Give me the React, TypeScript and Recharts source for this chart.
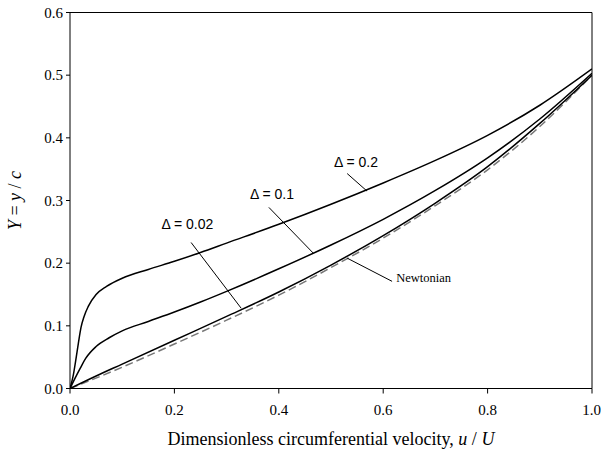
import React from "react";
import { LineChart, Line, XAxis, YAxis, ReferenceLine, ReferenceDot } from "recharts";

// u/U values and Y = y/c values for each curve
const delta02U = [0, 0.006, 0.011, 0.016, 0.021, 0.027, 0.035, 0.05, 0.07, 0.1, 0.15, 0.2, 0.25, 0.3, 0.4, 0.5, 0.6, 0.7, 0.8, 0.9, 1.0];
const delta02Y = [0, 0.02, 0.045, 0.072, 0.097, 0.115, 0.131, 0.15, 0.163, 0.176, 0.19, 0.203, 0.217, 0.232, 0.262, 0.294, 0.328, 0.364, 0.404, 0.452, 0.51];

const delta01U = [0, 0.01, 0.02, 0.03, 0.05, 0.075, 0.1, 0.15, 0.2, 0.25, 0.3, 0.4, 0.5, 0.6, 0.7, 0.8, 0.9, 1.0];
const delta01Y = [0, 0.017, 0.033, 0.048, 0.067, 0.081, 0.092, 0.107, 0.122, 0.138, 0.155, 0.191, 0.229, 0.27, 0.316, 0.368, 0.43, 0.503];

const delta002U = [0, 0.05, 0.1, 0.2, 0.3, 0.4, 0.5, 0.6, 0.7, 0.8, 0.9, 1.0];
const delta002Y = [0, 0.02, 0.039, 0.077, 0.115, 0.154, 0.197, 0.244, 0.296, 0.354, 0.423, 0.5];

const newtonianU = [0, 0.1, 0.2, 0.3, 0.4, 0.5, 0.6, 0.7, 0.8, 0.9, 1.0];
const newtonianY = [0, 0.034, 0.071, 0.109, 0.149, 0.193, 0.24, 0.292, 0.349, 0.418, 0.5];

const xTicks = [0, 0.2, 0.4, 0.6, 0.8, 1.0];
const yTicks = [0, 0.1, 0.2, 0.3, 0.4, 0.5, 0.6];

// annotation labels with leader lines (data coordinates)
const annotations = [
  { text: "\u0394 = 0.2", x: 0.548, y: 0.361, from: { x: 0.531, y: 0.343 }, to: { x: 0.569, y: 0.315 }, serif: false, anchor: "middle" },
  { text: "\u0394 = 0.1", x: 0.387, y: 0.311, from: { x: 0.381, y: 0.289 }, to: { x: 0.466, y: 0.216 }, serif: false, anchor: "middle" },
  { text: "\u0394 = 0.02", x: 0.225, y: 0.262, from: { x: 0.232, y: 0.233 }, to: { x: 0.328, y: 0.128 }, serif: false, anchor: "middle" },
  { text: "Newtonian", x: 0.625, y: 0.177, from: { x: 0.531, y: 0.208 }, to: { x: 0.617, y: 0.171 }, serif: true, anchor: "start" },
];

const zip = (u: number[], y: number[]) => u.map((v, i) => ({ x: v, y: y[i] }));

const serif = "'Liberation Serif', 'Times New Roman', serif";
const sans = "'Liberation Sans', Arial, sans-serif";

const XTitle = (props: any) => {
  const { viewBox } = props;
  const cx = viewBox.x + viewBox.width / 2;
  return (
    <text x={cx} y={viewBox.y + 56} textAnchor="middle" fontFamily={serif} fontSize={18} fill="#000">
      Dimensionless circumferential velocity, <tspan fontStyle="italic">u</tspan> / <tspan fontStyle="italic">U</tspan>
    </text>
  );
};

const YTitle = (props: any) => {
  const { viewBox } = props;
  const cy = viewBox.y + viewBox.height / 2;
  const x = 21;
  return (
    <text x={x} y={cy} transform={`rotate(-90, ${x}, ${cy})`} textAnchor="middle" fontFamily={serif} fontSize={18} fill="#000">
      <tspan fontStyle="italic">Y</tspan> = <tspan fontStyle="italic">y</tspan> / <tspan fontStyle="italic">c</tspan>
    </text>
  );
};

export default function App() {
  return (
    <div style={{ position: "absolute", left: 0, top: 0, background: "#fff" }}>
      <LineChart width={601} height={451} margin={{ top: 12.5, right: 9, bottom: 0, left: 0 }}>
        <XAxis
          type="number"
          dataKey="x"
          domain={[0, 1]}
          ticks={xTicks}
          tickFormatter={(v: number) => v.toFixed(1)}
          axisLine={{ stroke: "#000", strokeWidth: 1 }}
          tickLine={{ stroke: "#000" }}
          tickSize={5}
          tickMargin={11}
          height={62.5}
          tick={{ fill: "#000", fontFamily: serif, fontSize: 15 }}
          label={<XTitle />}
          allowDataOverflow
        />
        <YAxis
          type="number"
          domain={[0, 0.6]}
          ticks={yTicks}
          tickFormatter={(v: number) => v.toFixed(1)}
          axisLine={{ stroke: "#000", strokeWidth: 1 }}
          tickLine={{ stroke: "#000" }}
          tickSize={4}
          tickMargin={3}
          width={70}
          tick={{ fill: "#000", fontFamily: serif, fontSize: 15 }}
          label={<YTitle />}
          allowDataOverflow
        />
        <ReferenceLine y={0.6} stroke="#000" strokeWidth={1} />
        <ReferenceLine x={1} stroke="#000" strokeWidth={1} />
        <Line data={zip(newtonianU, newtonianY)} dataKey="y" type="monotone" stroke="#777" strokeWidth={1.5} strokeDasharray="8 4" dot={false} isAnimationActive={false} />
        <Line data={zip(delta002U, delta002Y)} dataKey="y" type="monotone" stroke="#000" strokeWidth={1.5} dot={false} isAnimationActive={false} />
        <Line data={zip(delta01U, delta01Y)} dataKey="y" type="monotone" stroke="#000" strokeWidth={1.5} dot={false} isAnimationActive={false} />
        <Line data={zip(delta02U, delta02Y)} dataKey="y" type="monotone" stroke="#000" strokeWidth={1.5} dot={false} isAnimationActive={false} />
        {annotations.map((a, i) => (
          <ReferenceLine key={"l" + i} segment={[a.from, a.to]} stroke="#000" strokeWidth={1} />
        ))}
        {annotations.map((a, i) => (
          <ReferenceDot
            key={"t" + i}
            x={a.x}
            y={a.y}
            r={0}
            shape={(p: any) => (
              <text x={p.cx} y={p.cy} dy="0.35em" textAnchor={a.anchor as any} fontFamily={a.serif ? serif : sans} fontSize={a.serif ? 12.5 : 14} fill="#000">
                {a.text}
              </text>
            )}
          />
        ))}
      </LineChart>
    </div>
  );
}
